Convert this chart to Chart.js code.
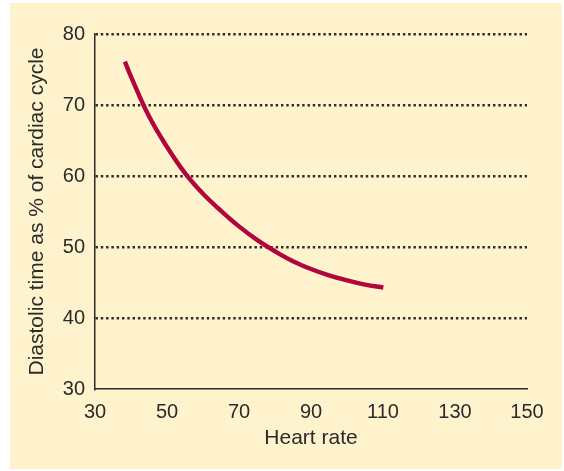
<!DOCTYPE html>
<html>
<head>
<meta charset="utf-8">
<script src="https://cdn.jsdelivr.net/npm/chart.js@4.4.1/dist/chart.umd.min.js"></script>
<style>
  html, body { margin: 0; padding: 0; background: #ffffff; }
  #wrap { width: 564px; height: 471px; position: relative; }
</style>
</head>
<body>
<div id="wrap"><canvas id="c"></canvas></div>
<script>
// Data
const heartRate = [38.3, 40, 45, 50, 55, 60, 65, 70, 75, 80, 85, 90, 95, 100, 105, 110.1];
const diastolicPct = [76.1, 74.0, 68.4, 64.1, 60.4, 57.5, 55.1, 52.9, 51.0, 49.4, 48.0, 46.9, 46.0, 45.3, 44.7, 44.3];
const xTicks = [30, 50, 70, 90, 110, 130, 150];
const yTicks = [30, 40, 50, 60, 70, 80];
const xTitle = 'Heart rate';
const yTitle = 'Diastolic time as % of cardiac cycle';

const points = heartRate.map((x, i) => ({ x: x, y: diastolicPct[i] }));

const cream = '#fef3cd';
const ink = '#2b2b2b';
const fontFamily = '"Liberation Sans", Arial, Helvetica, sans-serif';

const bgPlugin = {
  id: 'bg',
  beforeDraw(chart) {
    const ctx = chart.ctx;
    ctx.save();
    ctx.fillStyle = cream;
    ctx.fillRect(10, 3, 552, 466);
    ctx.restore();
  }
};

new Chart(document.getElementById('c'), {
  type: 'line',
  data: {
    datasets: [{
      data: points,
      borderColor: '#b0063e',
      borderWidth: 4.4,
      pointRadius: 0,
      fill: false,
      tension: 0.4,
      borderCapStyle: 'butt'
    }]
  },
  options: {
    responsive: true,
    maintainAspectRatio: false,
    animation: false,
    layout: { padding: { left: 0, right: 37, top: 34, bottom: 0 } },
    plugins: { legend: { display: false }, tooltip: { enabled: false } },
    scales: {
      x: {
        type: 'linear',
        min: xTicks[0],
        max: xTicks[xTicks.length - 1],
        afterBuildTicks(scale) { scale.ticks = xTicks.map(v => ({ value: v })); },
        afterFit(scale) { scale.height = 82; },
        grid: { display: false, drawTicks: false },
        border: { display: true, color: ink, width: 1.5 },
        ticks: {
          color: ink,
          padding: 11,
          font: { family: fontFamily, size: 20 },
          maxRotation: 0,
          autoSkip: false
        },
        title: {
          display: true,
          text: xTitle,
          color: ink,
          font: { family: fontFamily, size: 21 },
          padding: { top: 0, bottom: 20 }
        }
      },
      y: {
        type: 'linear',
        min: yTicks[0],
        max: yTicks[yTicks.length - 1],
        afterBuildTicks(scale) { scale.ticks = yTicks.map(v => ({ value: v })); },
        afterFit(scale) { scale.width = 95; },
        grid: {
          display: true,
          drawTicks: false,
          lineWidth: 2.4,
          color: (c) => (c.tick && c.tick.value === yTicks[0]) ? 'rgba(0,0,0,0)' : ink
        },
        border: { display: true, color: ink, width: 1.5, dash: [2.4, 2.9] },
        ticks: {
          color: ink,
          padding: 10,
          font: { family: fontFamily, size: 20 },
          autoSkip: false
        },
        title: {
          display: true,
          text: yTitle,
          color: ink,
          font: { family: fontFamily, size: 21 },
          padding: { top: 25, bottom: 0 }
        }
      }
    }
  },
  plugins: [bgPlugin]
});
</script>
</body>
</html>
